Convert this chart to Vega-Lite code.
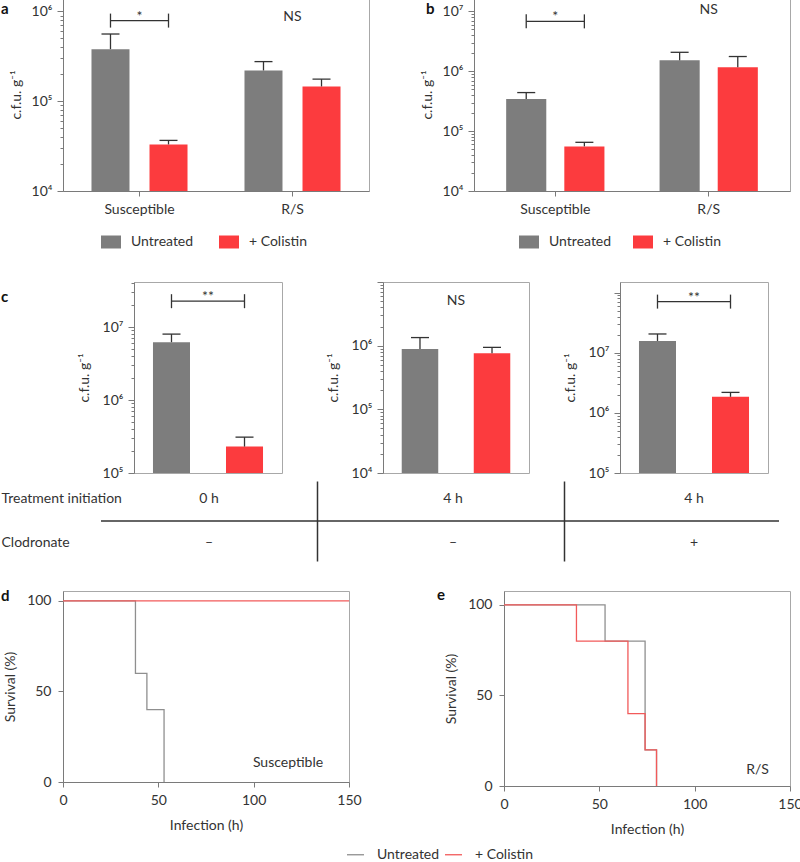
{
  "$schema": "https://vega.github.io/schema/vega-lite/v6.json",
  "padding": {"left": 0, "top": -3, "right": 0, "bottom": 0},
  "background": "white",
  "config": {
    "font": "Lato",
    "view": {"stroke": null},
    "axis": {"labelFont": "Lato", "titleFont": "Lato", "labelFontSize": 14, "titleFontSize": 14, "labelColor": "#333", "titleColor": "#333", "titleFontWeight": "normal", "domainColor": "#7a7a7a", "tickColor": "#7a7a7a", "grid": false, "labelFlush": false},
    "legend": {"labelFont": "Lato", "labelFontSize": 14, "labelColor": "#333"},
    "text": {"font": "Lato", "fontSize": 14, "color": "#333"},
    "title": {"font": "Lato", "fontSize": 15, "fontWeight": "bold", "color": "#111", "anchor": "start", "frame": "group", "offset": 0}
  },
  "datasets": {
    "bars": [
      {"panel": "a", "group": "Susceptible", "treatment": "Untreated", "cfu": 380000, "upper": 560000},
      {"panel": "a", "group": "Susceptible", "treatment": "+ Colistin", "cfu": 33000, "upper": 36600},
      {"panel": "a", "group": "R/S", "treatment": "Untreated", "cfu": 220000, "upper": 276000},
      {"panel": "a", "group": "R/S", "treatment": "+ Colistin", "cfu": 146000, "upper": 176000},
      {"panel": "b", "group": "Susceptible", "treatment": "Untreated", "cfu": 345000, "upper": 440000},
      {"panel": "b", "group": "Susceptible", "treatment": "+ Colistin", "cfu": 55600, "upper": 65000},
      {"panel": "b", "group": "R/S", "treatment": "Untreated", "cfu": 1520000, "upper": 2070000},
      {"panel": "b", "group": "R/S", "treatment": "+ Colistin", "cfu": 1170000, "upper": 1760000},
      {"panel": "c1", "group": "0 h", "treatment": "Untreated", "cfu": 6200000, "upper": 8000000},
      {"panel": "c1", "group": "0 h", "treatment": "+ Colistin", "cfu": 230000, "upper": 310000},
      {"panel": "c2", "group": "4 h", "treatment": "Untreated", "cfu": 890000, "upper": 1340000},
      {"panel": "c2", "group": "4 h", "treatment": "+ Colistin", "cfu": 760000, "upper": 940000},
      {"panel": "c3", "group": "4 h", "treatment": "Untreated", "cfu": 15700000, "upper": 20500000},
      {"panel": "c3", "group": "4 h", "treatment": "+ Colistin", "cfu": 1850000, "upper": 2190000}
    ],
    "sig": [
      {"panel": "a", "group": "Susceptible", "label": "*", "cfu": 790000},
      {"panel": "a", "group": "R/S", "label": "NS", "cfu": 790000},
      {"panel": "b", "group": "Susceptible", "label": "*", "cfu": 6800000},
      {"panel": "b", "group": "R/S", "label": "NS", "cfu": 8900000},
      {"panel": "c1", "group": "0 h", "label": "**", "cfu": 22600000},
      {"panel": "c2", "group": "4 h", "label": "NS", "cfu": 4300000},
      {"panel": "c3", "group": "4 h", "label": "**", "cfu": 70800000}
    ],
    "sigEnds": [
      {"panel": "a", "group": "Susceptible", "treatment": "Untreated", "cfu": 790000},
      {"panel": "a", "group": "Susceptible", "treatment": "+ Colistin", "cfu": 790000},
      {"panel": "b", "group": "Susceptible", "treatment": "Untreated", "cfu": 6800000},
      {"panel": "b", "group": "Susceptible", "treatment": "+ Colistin", "cfu": 6800000},
      {"panel": "c1", "group": "0 h", "treatment": "Untreated", "cfu": 22600000},
      {"panel": "c1", "group": "0 h", "treatment": "+ Colistin", "cfu": 22600000},
      {"panel": "c3", "group": "4 h", "treatment": "Untreated", "cfu": 70800000},
      {"panel": "c3", "group": "4 h", "treatment": "+ Colistin", "cfu": 70800000}
    ],
    "table": [
      {"col": "c1", "row": "Treatment initiation", "text": "0 h"},
      {"col": "c1", "row": "Clodronate", "text": "–"},
      {"col": "c2", "row": "Treatment initiation", "text": "4 h"},
      {"col": "c2", "row": "Clodronate", "text": "–"},
      {"col": "c3", "row": "Treatment initiation", "text": "4 h"},
      {"col": "c3", "row": "Clodronate", "text": "+"}
    ],
    "surv": [
      {"panel": "d", "treatment": "Untreated", "hours": 0, "survival": 100},
      {"panel": "d", "treatment": "Untreated", "hours": 38, "survival": 60},
      {"panel": "d", "treatment": "Untreated", "hours": 44, "survival": 40},
      {"panel": "d", "treatment": "Untreated", "hours": 53, "survival": 0},
      {"panel": "d", "treatment": "+ Colistin", "hours": 0, "survival": 100},
      {"panel": "d", "treatment": "+ Colistin", "hours": 150, "survival": 100},
      {"panel": "e", "treatment": "Untreated", "hours": 0, "survival": 100},
      {"panel": "e", "treatment": "Untreated", "hours": 53, "survival": 80},
      {"panel": "e", "treatment": "Untreated", "hours": 74, "survival": 20},
      {"panel": "e", "treatment": "Untreated", "hours": 80, "survival": 0},
      {"panel": "e", "treatment": "+ Colistin", "hours": 0, "survival": 100},
      {"panel": "e", "treatment": "+ Colistin", "hours": 38, "survival": 80},
      {"panel": "e", "treatment": "+ Colistin", "hours": 65, "survival": 40},
      {"panel": "e", "treatment": "+ Colistin", "hours": 74, "survival": 20},
      {"panel": "e", "treatment": "+ Colistin", "hours": 80, "survival": 0}
    ],
    "survLabels": [
      {"panel": "d", "label": "Susceptible", "hours": 118, "survival": 10.5},
      {"panel": "e", "label": "R/S", "hours": 133, "survival": 9}
    ]
  },
  "spacing": 24,
  "resolve": {"scale": {"color": "independent", "xOffset": "independent"}, "legend": {"color": "independent"}},
  "vconcat": [
    {
      "hconcat": [
        {"width": 62, "height": 1, "data": {"values": [{}]}, "mark": {"type": "point", "opacity": 0, "size": 0}},
        {
          "width": 306, "height": 193,
          "view": {"stroke": "#a8a8a8"},
          "title": {"text": "a", "dx": -62, "dy": 23},
          "encoding": {
            "x": {"field": "group", "type": "nominal", "sort": ["Susceptible", "R/S"], "scale": {"paddingInner": 0, "paddingOuter": 0}, "axis": {"title": null, "labelAngle": 0, "tickSize": 5, "labelPadding": 6}},
            "y": {"field": "cfu", "type": "quantitative", "stack": null, "scale": {"type": "log", "domain": [10000, 1410000], "nice": false},
              "axis": {"title": "c.f.u. g⁻¹", "values": [10000,20000,30000,40000,50000,60000,70000,80000,90000,100000,200000,300000,400000,500000,600000,700000,800000,900000,1000000],
                "labelExpr": "abs(log(datum.value)/LN10 - round(log(datum.value)/LN10)) < 0.000001 ? '10' + ['⁰','¹','²','³','⁴','⁵','⁶','⁷','⁸','⁹'][round(log(datum.value)/LN10)] : ''",
                "labelOverlap": false, "tickSize": {"condition": {"test": "abs(log(datum.value)/LN10 - round(log(datum.value)/LN10)) < 0.000001", "value": 6}, "value": 3}, "labelPadding": 5, "titlePadding": 8}}
          },
          "layer": [
            {"data": {"name": "bars"}, "transform": [{"filter": "datum.panel == 'a'"}], "mark": {"type": "bar"},
              "encoding": {"xOffset": {"field": "treatment", "type": "nominal", "sort": ["Untreated", "+ Colistin"], "scale": {"paddingInner": 0.345, "paddingOuter": 0.491}},
                "color": {"field": "treatment", "type": "nominal", "sort": ["Untreated", "+ Colistin"], "scale": {"domain": ["Untreated", "+ Colistin"], "range": ["#7d7d7d", "#fc3b3e"]},
                  "legend": {"orient": "none", "legendX": 38, "legendY": 234, "direction": "horizontal", "title": null, "symbolType": "M-1,-0.65H1V0.65H-1Z", "symbolSize": 400, "symbolStrokeWidth": 0, "labelOffset": 10, "columnPadding": 25, "padding": 0}}}},
            {"data": {"name": "bars"}, "transform": [{"filter": "datum.panel == 'a'"}], "mark": {"type": "rule", "color": "#333", "strokeWidth": 1.3},
              "encoding": {"xOffset": {"field": "treatment", "type": "nominal", "sort": ["Untreated", "+ Colistin"], "scale": {"paddingInner": 0.345, "paddingOuter": 0.491}}, "y2": {"field": "upper"}}},
            {"data": {"name": "bars"}, "transform": [{"filter": "datum.panel == 'a'"}], "mark": {"type": "tick", "color": "#333", "size": 18, "thickness": 1.3, "opacity": 1},
              "encoding": {"xOffset": {"field": "treatment", "type": "nominal", "sort": ["Untreated", "+ Colistin"], "scale": {"paddingInner": 0.345, "paddingOuter": 0.491}}, "y": {"field": "upper", "type": "quantitative", "scale": {"type": "log", "domain": [10000, 1410000], "nice": false}}}},
            {"data": {"name": "sig"}, "transform": [{"filter": "datum.panel == 'a' && datum.label != 'NS'"}], "mark": {"type": "tick", "color": "#333", "size": 58, "thickness": 1.3, "opacity": 1}},
            {"data": {"name": "sigEnds"}, "transform": [{"filter": "datum.panel == 'a'"}], "mark": {"type": "point", "shape": "stroke", "angle": 90, "size": 196, "color": "#333", "strokeWidth": 1.3, "opacity": 1},
              "encoding": {"xOffset": {"field": "treatment", "type": "nominal", "sort": ["Untreated", "+ Colistin"], "scale": {"paddingInner": 0.345, "paddingOuter": 0.491}}}},
            {"data": {"name": "sig"}, "transform": [{"filter": "datum.panel == 'a'"}], "mark": {"type": "text", "baseline": "alphabetic"}, "encoding": {"text": {"field": "label"}}}
          ]
        },
        {"width": 105, "height": 1, "data": {"values": [{}]}, "mark": {"type": "point", "opacity": 0, "size": 0}},
        {
          "width": 316, "height": 193,
          "view": {"stroke": "#a8a8a8"},
          "title": {"text": "b", "dx": -48, "dy": 23},
          "encoding": {
            "x": {"field": "group", "type": "nominal", "sort": ["Susceptible", "R/S"], "scale": {"paddingInner": 0, "paddingOuter": 0.03}, "axis": {"title": null, "labelAngle": 0, "tickSize": 5, "labelPadding": 6}},
            "y": {"field": "cfu", "type": "quantitative", "stack": null, "scale": {"type": "log", "domain": [10000, 16700000], "nice": false},
              "axis": {"title": "c.f.u. g⁻¹", "values": [10000,20000,30000,40000,50000,60000,70000,80000,90000,100000,200000,300000,400000,500000,600000,700000,800000,900000,1000000,2000000,3000000,4000000,5000000,6000000,7000000,8000000,9000000,10000000],
                "labelExpr": "abs(log(datum.value)/LN10 - round(log(datum.value)/LN10)) < 0.000001 ? '10' + ['⁰','¹','²','³','⁴','⁵','⁶','⁷','⁸','⁹'][round(log(datum.value)/LN10)] : ''",
                "labelOverlap": false, "tickSize": {"condition": {"test": "abs(log(datum.value)/LN10 - round(log(datum.value)/LN10)) < 0.000001", "value": 6}, "value": 3}, "labelPadding": 5, "titlePadding": 8}}
          },
          "layer": [
            {"data": {"name": "bars"}, "transform": [{"filter": "datum.panel == 'b'"}], "mark": {"type": "bar"},
              "encoding": {"xOffset": {"field": "treatment", "type": "nominal", "sort": ["Untreated", "+ Colistin"], "scale": {"paddingInner": 0.31, "paddingOuter": 0.474}},
                "color": {"field": "treatment", "type": "nominal", "sort": ["Untreated", "+ Colistin"], "scale": {"domain": ["Untreated", "+ Colistin"], "range": ["#7d7d7d", "#fc3b3e"]},
                  "legend": {"orient": "none", "legendX": 45, "legendY": 234, "direction": "horizontal", "title": null, "symbolType": "M-1,-0.65H1V0.65H-1Z", "symbolSize": 400, "symbolStrokeWidth": 0, "labelOffset": 10, "columnPadding": 21, "padding": 0}}}},
            {"data": {"name": "bars"}, "transform": [{"filter": "datum.panel == 'b'"}], "mark": {"type": "rule", "color": "#333", "strokeWidth": 1.3},
              "encoding": {"xOffset": {"field": "treatment", "type": "nominal", "sort": ["Untreated", "+ Colistin"], "scale": {"paddingInner": 0.31, "paddingOuter": 0.474}}, "y2": {"field": "upper"}}},
            {"data": {"name": "bars"}, "transform": [{"filter": "datum.panel == 'b'"}], "mark": {"type": "tick", "color": "#333", "size": 18, "thickness": 1.3, "opacity": 1},
              "encoding": {"xOffset": {"field": "treatment", "type": "nominal", "sort": ["Untreated", "+ Colistin"], "scale": {"paddingInner": 0.31, "paddingOuter": 0.474}}, "y": {"field": "upper", "type": "quantitative", "scale": {"type": "log", "domain": [10000, 16700000], "nice": false}}}},
            {"data": {"name": "sig"}, "transform": [{"filter": "datum.panel == 'b' && datum.label != 'NS'"}], "mark": {"type": "tick", "color": "#333", "size": 58, "thickness": 1.3, "opacity": 1}},
            {"data": {"name": "sigEnds"}, "transform": [{"filter": "datum.panel == 'b'"}], "mark": {"type": "point", "shape": "stroke", "angle": 90, "size": 196, "color": "#333", "strokeWidth": 1.3, "opacity": 1},
              "encoding": {"xOffset": {"field": "treatment", "type": "nominal", "sort": ["Untreated", "+ Colistin"], "scale": {"paddingInner": 0.31, "paddingOuter": 0.474}}}},
            {"data": {"name": "sig"}, "transform": [{"filter": "datum.panel == 'b'"}], "mark": {"type": "text", "baseline": "alphabetic"}, "encoding": {"text": {"field": "label"}}}
          ]
        }
      ],
      "spacing": 0,
      "bounds": "flush",
      "resolve": {"scale": {"color": "independent", "xOffset": "independent"}, "legend": {"color": "independent"}}
    },
    {
      "vconcat": [
        {
          "vconcat": [
            {
              "hconcat": [
                {"width": 133, "height": 1, "data": {"values": [{}]}, "mark": {"type": "point", "opacity": 0, "size": 0}},
                {
                  "width": 148, "height": 191,
                  "view": {"stroke": "#a8a8a8"},
                  "title": {"text": "c", "dx": -133, "dy": 33},
                  "encoding": {
                    "y": {"field": "cfu", "type": "quantitative", "stack": null, "scale": {"type": "log", "domain": [100000, 41400000], "nice": false},
                      "axis": {"title": "c.f.u. g⁻¹", "values": [100000,200000,300000,400000,500000,600000,700000,800000,900000,1000000,2000000,3000000,4000000,5000000,6000000,7000000,8000000,9000000,10000000,20000000,30000000,40000000],
                        "labelExpr": "abs(log(datum.value)/LN10 - round(log(datum.value)/LN10)) < 0.000001 ? '10' + ['⁰','¹','²','³','⁴','⁵','⁶','⁷','⁸','⁹'][round(log(datum.value)/LN10)] : ''",
                        "labelOverlap": false, "tickSize": {"condition": {"test": "abs(log(datum.value)/LN10 - round(log(datum.value)/LN10)) < 0.000001", "value": 6}, "value": 3}, "labelPadding": 5, "titlePadding": 11}}
                  },
                  "layer": [
                    {"data": {"name": "bars"}, "transform": [{"filter": "datum.panel == 'c1'"}], "mark": {"type": "bar"},
                      "encoding": {"x": {"field": "treatment", "type": "nominal", "sort": ["Untreated", "+ Colistin"], "scale": {"paddingInner": 0.493, "paddingOuter": 0.26}, "axis": null},
                        "color": {"field": "treatment", "type": "nominal", "scale": {"domain": ["Untreated", "+ Colistin"], "range": ["#7d7d7d", "#fc3b3e"]}, "legend": null}}},
                    {"data": {"name": "bars"}, "transform": [{"filter": "datum.panel == 'c1'"}], "mark": {"type": "rule", "color": "#333", "strokeWidth": 1.3},
                      "encoding": {"x": {"field": "treatment", "type": "nominal", "sort": ["Untreated", "+ Colistin"]}, "y2": {"field": "upper"}}},
                    {"data": {"name": "bars"}, "transform": [{"filter": "datum.panel == 'c1'"}], "mark": {"type": "tick", "color": "#333", "size": 18, "thickness": 1.3, "opacity": 1},
                      "encoding": {"x": {"field": "treatment", "type": "nominal", "sort": ["Untreated", "+ Colistin"]}, "y": {"field": "upper", "type": "quantitative", "scale": {"type": "log", "domain": [100000, 41400000], "nice": false}}}},
                    {"data": {"name": "sig"}, "transform": [{"filter": "datum.panel == 'c1' && datum.label != 'NS'"}], "mark": {"type": "tick", "color": "#333", "size": 73, "thickness": 1.3, "opacity": 1}},
                    {"data": {"name": "sigEnds"}, "transform": [{"filter": "datum.panel == 'c1'"}], "mark": {"type": "point", "shape": "stroke", "angle": 90, "size": 196, "color": "#333", "strokeWidth": 1.3, "opacity": 1},
                      "encoding": {"x": {"field": "treatment", "type": "nominal", "sort": ["Untreated", "+ Colistin"]}}},
                    {"data": {"name": "sig"}, "transform": [{"filter": "datum.panel == 'c1'"}], "mark": {"type": "text", "baseline": "alphabetic"}, "encoding": {"text": {"field": "label"}}}
                  ]
                },
                {"width": 101, "height": 1, "data": {"values": [{}]}, "mark": {"type": "point", "opacity": 0, "size": 0}},
                {
                  "width": 146, "height": 191,
                  "view": {"stroke": "#a8a8a8"},
                  "encoding": {
                    "y": {"field": "cfu", "type": "quantitative", "stack": null, "scale": {"type": "log", "domain": [10000, 10000000], "nice": false},
                      "axis": {"title": "c.f.u. g⁻¹", "values": [10000,20000,30000,40000,50000,60000,70000,80000,90000,100000,200000,300000,400000,500000,600000,700000,800000,900000,1000000,2000000,3000000,4000000,5000000,6000000,7000000,8000000,9000000,10000000],
                        "labelExpr": "abs(log(datum.value)/LN10 - round(log(datum.value)/LN10)) < 0.000001 && datum.value < 5000000 ? '10' + ['⁰','¹','²','³','⁴','⁵','⁶','⁷','⁸','⁹'][round(log(datum.value)/LN10)] : ''",
                        "labelOverlap": false, "tickSize": {"condition": {"test": "abs(log(datum.value)/LN10 - round(log(datum.value)/LN10)) < 0.000001", "value": 6}, "value": 3}, "labelPadding": 5, "titlePadding": 11}}
                  },
                  "layer": [
                    {"data": {"name": "bars"}, "transform": [{"filter": "datum.panel == 'c2'"}], "mark": {"type": "bar"},
                      "encoding": {"x": {"field": "treatment", "type": "nominal", "sort": ["Untreated", "+ Colistin"], "scale": {"paddingInner": 0.493, "paddingOuter": 0.26}, "axis": null},
                        "color": {"field": "treatment", "type": "nominal", "scale": {"domain": ["Untreated", "+ Colistin"], "range": ["#7d7d7d", "#fc3b3e"]}, "legend": null}}},
                    {"data": {"name": "bars"}, "transform": [{"filter": "datum.panel == 'c2'"}], "mark": {"type": "rule", "color": "#333", "strokeWidth": 1.3},
                      "encoding": {"x": {"field": "treatment", "type": "nominal", "sort": ["Untreated", "+ Colistin"]}, "y2": {"field": "upper"}}},
                    {"data": {"name": "bars"}, "transform": [{"filter": "datum.panel == 'c2'"}], "mark": {"type": "tick", "color": "#333", "size": 18, "thickness": 1.3, "opacity": 1},
                      "encoding": {"x": {"field": "treatment", "type": "nominal", "sort": ["Untreated", "+ Colistin"]}, "y": {"field": "upper", "type": "quantitative", "scale": {"type": "log", "domain": [10000, 10000000], "nice": false}}}},
                    {"data": {"name": "sig"}, "transform": [{"filter": "datum.panel == 'c2'"}], "mark": {"type": "text", "baseline": "alphabetic"}, "encoding": {"text": {"field": "label"}}}
                  ]
                },
                {"width": 91, "height": 1, "data": {"values": [{}]}, "mark": {"type": "point", "opacity": 0, "size": 0}},
                {
                  "width": 148, "height": 191,
                  "view": {"stroke": "#a8a8a8"},
                  "encoding": {
                    "y": {"field": "cfu", "type": "quantitative", "stack": null, "scale": {"type": "log", "domain": [100000, 150000000], "nice": false},
                      "axis": {"title": "c.f.u. g⁻¹", "values": [100000,200000,300000,400000,500000,600000,700000,800000,900000,1000000,2000000,3000000,4000000,5000000,6000000,7000000,8000000,9000000,10000000,20000000,30000000,40000000,50000000,60000000,70000000,80000000,90000000,100000000],
                        "labelExpr": "abs(log(datum.value)/LN10 - round(log(datum.value)/LN10)) < 0.000001 && datum.value < 50000000 ? '10' + ['⁰','¹','²','³','⁴','⁵','⁶','⁷','⁸','⁹'][round(log(datum.value)/LN10)] : ''",
                        "labelOverlap": false, "tickSize": {"condition": {"test": "abs(log(datum.value)/LN10 - round(log(datum.value)/LN10)) < 0.000001", "value": 6}, "value": 3}, "labelPadding": 5, "titlePadding": 11}}
                  },
                  "layer": [
                    {"data": {"name": "bars"}, "transform": [{"filter": "datum.panel == 'c3'"}], "mark": {"type": "bar"},
                      "encoding": {"x": {"field": "treatment", "type": "nominal", "sort": ["Untreated", "+ Colistin"], "scale": {"paddingInner": 0.493, "paddingOuter": 0.26}, "axis": null},
                        "color": {"field": "treatment", "type": "nominal", "scale": {"domain": ["Untreated", "+ Colistin"], "range": ["#7d7d7d", "#fc3b3e"]}, "legend": null}}},
                    {"data": {"name": "bars"}, "transform": [{"filter": "datum.panel == 'c3'"}], "mark": {"type": "rule", "color": "#333", "strokeWidth": 1.3},
                      "encoding": {"x": {"field": "treatment", "type": "nominal", "sort": ["Untreated", "+ Colistin"]}, "y2": {"field": "upper"}}},
                    {"data": {"name": "bars"}, "transform": [{"filter": "datum.panel == 'c3'"}], "mark": {"type": "tick", "color": "#333", "size": 18, "thickness": 1.3, "opacity": 1},
                      "encoding": {"x": {"field": "treatment", "type": "nominal", "sort": ["Untreated", "+ Colistin"]}, "y": {"field": "upper", "type": "quantitative", "scale": {"type": "log", "domain": [100000, 150000000], "nice": false}}}},
                    {"data": {"name": "sig"}, "transform": [{"filter": "datum.panel == 'c3' && datum.label != 'NS'"}], "mark": {"type": "tick", "color": "#333", "size": 73, "thickness": 1.3, "opacity": 1}},
                    {"data": {"name": "sigEnds"}, "transform": [{"filter": "datum.panel == 'c3'"}], "mark": {"type": "point", "shape": "stroke", "angle": 90, "size": 196, "color": "#333", "strokeWidth": 1.3, "opacity": 1},
                      "encoding": {"x": {"field": "treatment", "type": "nominal", "sort": ["Untreated", "+ Colistin"]}}},
                    {"data": {"name": "sig"}, "transform": [{"filter": "datum.panel == 'c3'"}], "mark": {"type": "text", "baseline": "alphabetic"}, "encoding": {"text": {"field": "label"}}}
                  ]
                }
              ],
              "spacing": 0,
              "bounds": "flush",
              "resolve": {"scale": {"color": "independent", "xOffset": "independent"}, "legend": {"color": "independent"}}
            },
            {
              "hconcat": [
                {"width": 100, "height": 1, "data": {"values": [{}]}, "mark": {"type": "point", "opacity": 0, "size": 0}},
                {
                  "width": 216, "height": 80,
                  "data": {"name": "table"},
                  "encoding": {"y": {"field": "row", "type": "nominal", "sort": ["Treatment initiation", "Clodronate"], "scale": {"paddingInner": 0.5, "paddingOuter": 0.159},
                    "axis": {"title": null, "labelAlign": "left", "labelPadding": 100, "ticks": false, "tickSize": 0, "domain": false}}},
                  "layer": [
                    {"transform": [{"filter": "datum.col == 'c1'"}], "mark": {"type": "text"}, "encoding": {"text": {"field": "text"}}},
                    {"transform": [{"filter": "datum.col == 'c1' && datum.row == 'Treatment initiation'"}], "mark": {"type": "rule", "color": "#333", "strokeWidth": 1.5},
                      "encoding": {"y": {"field": "row", "type": "nominal", "sort": ["Treatment initiation", "Clodronate"], "bandPosition": 1.5}}}
                  ]
                },
                {
                  "width": 247, "height": 80,
                  "data": {"name": "table"},
                  "encoding": {"y": {"field": "row", "type": "nominal", "sort": ["Treatment initiation", "Clodronate"], "scale": {"paddingInner": 0.5, "paddingOuter": 0.159},
                    "axis": {"title": null, "labels": false, "ticks": false, "domain": true, "domainColor": "#333", "domainWidth": 1.5}}},
                  "layer": [
                    {"transform": [{"filter": "datum.col == 'c2'"}], "mark": {"type": "text", "dx": 12.5}, "encoding": {"text": {"field": "text"}}},
                    {"transform": [{"filter": "datum.col == 'c2' && datum.row == 'Treatment initiation'"}], "mark": {"type": "rule", "color": "#333", "strokeWidth": 1.5},
                      "encoding": {"y": {"field": "row", "type": "nominal", "sort": ["Treatment initiation", "Clodronate"], "bandPosition": 1.5}}}
                  ]
                },
                {
                  "width": 215, "height": 80,
                  "data": {"name": "table"},
                  "encoding": {"y": {"field": "row", "type": "nominal", "sort": ["Treatment initiation", "Clodronate"], "scale": {"paddingInner": 0.5, "paddingOuter": 0.159},
                    "axis": {"title": null, "labels": false, "ticks": false, "domain": true, "domainColor": "#333", "domainWidth": 1.5}}},
                  "layer": [
                    {"transform": [{"filter": "datum.col == 'c3'"}], "mark": {"type": "text", "dx": 22.5}, "encoding": {"text": {"field": "text"}}},
                    {"transform": [{"filter": "datum.col == 'c3' && datum.row == 'Treatment initiation'"}], "mark": {"type": "rule", "color": "#333", "strokeWidth": 1.5},
                      "encoding": {"y": {"field": "row", "type": "nominal", "sort": ["Treatment initiation", "Clodronate"], "bandPosition": 1.5}}}
                  ]
                }
              ],
              "spacing": 0,
              "bounds": "flush"
            }
          ],
          "spacing": 0,
          "resolve": {"scale": {"color": "independent", "xOffset": "independent"}, "legend": {"color": "independent"}}
        },
        {
          "hconcat": [
            {"width": 62, "height": 1, "data": {"values": [{}]}, "mark": {"type": "point", "opacity": 0, "size": 0}},
            {
              "width": 286, "height": 191,
              "view": {"stroke": "#a8a8a8"},
              "title": {"text": "d", "dx": -62, "dy": 17},
              "encoding": {
                "x": {"field": "hours", "type": "quantitative", "scale": {"domain": [0, 150], "nice": false}, "axis": {"title": "Infection (h)", "values": [0, 50, 100, 150], "tickSize": 5, "labelPadding": 6, "titlePadding": 11}},
                "y": {"field": "survival", "type": "quantitative", "scale": {"domain": [0, 105.5], "nice": false}, "axis": {"title": "Survival (%)", "values": [0, 50, 100], "tickSize": 5, "labelPadding": 7, "titlePadding": 9}}
              },
              "layer": [
                {"data": {"name": "surv"}, "transform": [{"filter": "datum.panel == 'd' && datum.treatment == 'Untreated'"}], "mark": {"type": "line", "interpolate": "step-after", "strokeWidth": 1.3},
                  "encoding": {"color": {"field": "treatment", "type": "nominal", "scale": {"domain": ["Untreated", "+ Colistin"], "range": ["#8f8f8f", "#f25a5a"]},
                    "legend": {"orient": "none", "legendX": 283, "legendY": 254, "direction": "horizontal", "title": null, "symbolType": "stroke", "symbolSize": 289, "symbolStrokeWidth": 1.3, "labelOffset": 12, "columnPadding": 2, "padding": 0}}}},
                {"data": {"name": "surv"}, "transform": [{"filter": "datum.panel == 'd' && datum.treatment == '+ Colistin'"}], "mark": {"type": "line", "interpolate": "step-after", "strokeWidth": 1.3},
                  "encoding": {"color": {"field": "treatment", "type": "nominal", "scale": {"domain": ["Untreated", "+ Colistin"], "range": ["#8f8f8f", "#f25a5a"]}}}},
                {"data": {"name": "survLabels"}, "transform": [{"filter": "datum.panel == 'd'"}], "mark": {"type": "text"}, "encoding": {"text": {"field": "label"}}}
              ]
            },
            {"width": 155, "height": 1, "data": {"values": [{}]}, "mark": {"type": "point", "opacity": 0, "size": 0}},
            {
              "width": 286, "height": 195,
              "view": {"stroke": "#a8a8a8"},
              "title": {"text": "e", "dx": -67, "dy": 16},
              "encoding": {
                "x": {"field": "hours", "type": "quantitative", "scale": {"domain": [0, 150], "nice": false}, "axis": {"title": "Infection (h)", "values": [0, 50, 100, 150], "tickSize": 5, "labelPadding": 6, "titlePadding": 11}},
                "y": {"field": "survival", "type": "quantitative", "scale": {"domain": [0, 107.7], "nice": false}, "axis": {"title": "Survival (%)", "values": [0, 50, 100], "tickSize": 5, "labelPadding": 7, "titlePadding": 9}}
              },
              "layer": [
                {"data": {"name": "surv"}, "transform": [{"filter": "datum.panel == 'e' && datum.treatment == 'Untreated'"}], "mark": {"type": "line", "interpolate": "step-after", "strokeWidth": 1.3},
                  "encoding": {"color": {"field": "treatment", "type": "nominal", "scale": {"domain": ["Untreated", "+ Colistin"], "range": ["#8f8f8f", "#f25a5a"]}, "legend": null}}},
                {"data": {"name": "surv"}, "transform": [{"filter": "datum.panel == 'e' && datum.treatment == '+ Colistin'"}], "mark": {"type": "line", "interpolate": "step-after", "strokeWidth": 1.3},
                  "encoding": {"color": {"field": "treatment", "type": "nominal", "scale": {"domain": ["Untreated", "+ Colistin"], "range": ["#8f8f8f", "#f25a5a"]}, "legend": null}}},
                {"data": {"name": "survLabels"}, "transform": [{"filter": "datum.panel == 'e'"}], "mark": {"type": "text"}, "encoding": {"text": {"field": "label"}}}
              ]
            }
          ],
          "spacing": 0,
          "bounds": "flush",
          "resolve": {"scale": {"color": "independent"}, "legend": {"color": "independent"}}
        }
      ],
      "spacing": 26,
      "resolve": {"scale": {"color": "independent", "xOffset": "independent"}, "legend": {"color": "independent"}}
    }
  ]
}
